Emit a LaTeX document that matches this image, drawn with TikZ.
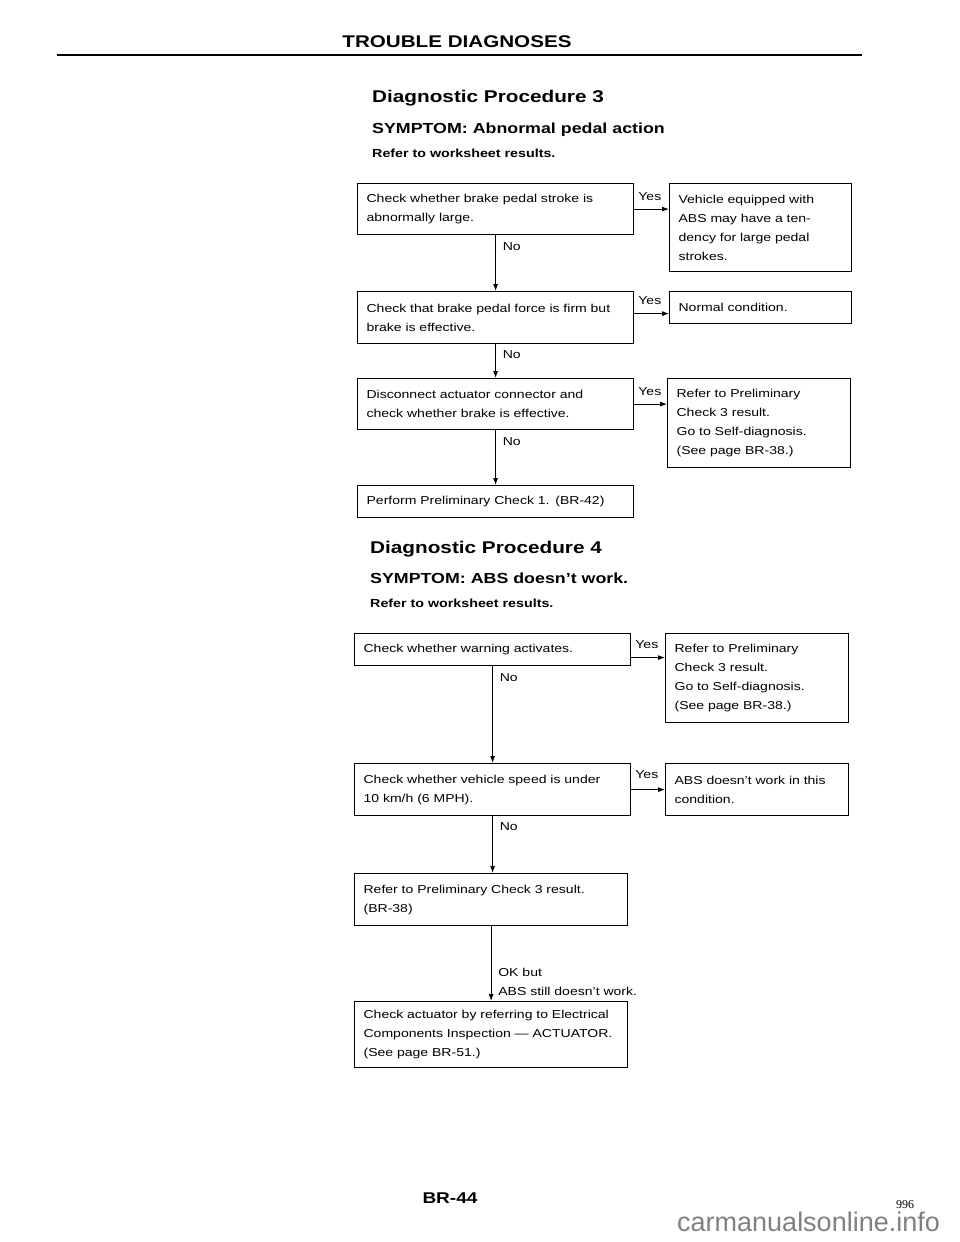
\documentclass[tikz,border=0pt]{standalone}
\usepackage{fontspec}
\setmainfont{Liberation Sans}[FakeStretch=1.22]
\newfontfamily\pagenofont{Liberation Serif}
\newfontfamily\markfont{Liberation Sans}
\usetikzlibrary{arrows.meta, calc}
\tikzset{
  check box/.style={
    draw=black,
    line width=1.2pt,
    anchor=north west,
    align=left,
    inner xsep=9pt,
    inner ysep=0pt,
    font=\fontsize{11.5}{19}\selectfont
  },
  flow/.style={
    -{Latex[length=7pt,width=5pt]},
    line width=0.9pt
  },
  branch label/.style={
    inner sep=0pt,
    font=\fontsize{11.5}{19}\selectfont
  },
  proc title/.style={
    anchor=base west,
    inner sep=0pt,
    font=\bfseries\fontsize{17}{20}\selectfont
  },
  symptom/.style={
    anchor=base west,
    inner sep=0pt,
    font=\bfseries\fontsize{14.6}{18}\selectfont
  },
  refer/.style={
    anchor=base west,
    inner sep=0pt,
    font=\bfseries\fontsize{11.7}{14}\selectfont
  }
}

\begin{document}
\begin{tikzpicture}[x=1pt, y=-1pt]
  \useasboundingbox (0,0) rectangle (960,1242);

  % kopf der seite
  \node[font=\bfseries\fontsize{16.9}{20}\selectfont] (title) at (457,42) {TROUBLE DIAGNOSES};
  \draw[line width=2.6pt] (57,55) -- (862,55);

  % Diagnostic Procedure 3
  \node[proc title] (dp3) at (372,102) {Diagnostic Procedure 3};
  \node[symptom] (sym3) at (372,133) {SYMPTOM: Abnormal pedal action};
  \node[refer] (ref3) at (372,157) {Refer to worksheet results.};

  \node[check box, text width=258pt, minimum height=51pt] (q1) at (357,183)
    {Check whether brake pedal stroke is\\abnormally large.};
  \node[check box, text width=164pt, minimum height=88pt] (a1) at (669,183)
    {Vehicle equipped with\\ABS may have a ten-\\dency for large pedal\\strokes.};
  \node[check box, text width=258pt, minimum height=52pt] (q2) at (357,291)
    {Check that brake pedal force is firm but\\brake is effective.};
  \node[check box, text width=164pt, minimum height=32pt] (a2) at (669,291)
    {Normal condition.};
  \node[check box, text width=258pt, minimum height=51pt] (q3) at (357,378)
    {Disconnect actuator connector and\\check whether brake is effective.};
  \node[check box, text width=165pt, minimum height=89pt] (a3) at (667,378)
    {Refer to Preliminary\\Check 3 result.\\Go to Self-diagnosis.\\(See page BR-38.)};
  \node[check box, text width=258pt, minimum height=32pt] (q4) at (357,485)
    {Perform Preliminary Check 1. (BR-42)};

  % ja-zweige
  \draw[flow] (q1.east) -- (q1.east -| a1.west);
  \node[branch label, anchor=base west] (yes1) at ($(q1.east)+(4,-9)$) {Yes};
  \draw[flow] ([yshift=4pt]q2.east) -- ([yshift=4pt]q2.east -| a2.west);
  \node[branch label, anchor=base west] (yes2) at ($([yshift=4pt]q2.east)+(4,-9)$) {Yes};
  \draw[flow] (q3.east) -- (q3.east -| a3.west);
  \node[branch label, anchor=base west] (yes3) at ($(q3.east)+(4,-9)$) {Yes};

  % nein-zweige
  \draw[flow] (q1) -- (q2);
  \node[branch label, anchor=base west] (no1) at ($(q1.south)+(7,15)$) {No};
  \draw[flow] (q2) -- (q3);
  \node[branch label, anchor=base west] (no2) at ($(q2.south)+(7,14)$) {No};
  \draw[flow] (q3) -- (q4);
  \node[branch label, anchor=base west] (no3) at ($(q3.south)+(7,15)$) {No};

  % Diagnostic Procedure 4
  \node[proc title] (dp4) at (370,553) {Diagnostic Procedure 4};
  \node[symptom] (sym4) at (370,583) {SYMPTOM: ABS doesn't work.};
  \node[refer] (ref4) at (370,607) {Refer to worksheet results.};

  \node[check box, text width=258pt, minimum height=32pt] (r1) at (354,633)
    {Check whether warning activates.};
  \node[check box, text width=165pt, minimum height=89pt] (b1) at (665,633)
    {Refer to Preliminary\\Check 3 result.\\Go to Self-diagnosis.\\(See page BR-38.)};
  \node[check box, text width=258pt, minimum height=52pt] (r2) at (354,763)
    {Check whether vehicle speed is under\\10 km/h (6 MPH).};
  \node[check box, text width=165pt, minimum height=52pt] (b2) at (665,763)
    {ABS doesn't work in this\\condition.};
  \node[check box, text width=255pt, minimum height=52pt] (r3) at (354,873)
    {Refer to Preliminary Check 3 result.\\(BR-38)};
  \node[check box, text width=255pt, minimum height=66pt] (r4) at (354,1001)
    {Check actuator by referring to Electrical\\Components Inspection --- ACTUATOR.\\(See page BR-51.)};

  \draw[flow] ([yshift=-8pt]r1.east) -- ([yshift=-8pt]r1.east -| b1.west);
  \node[branch label, anchor=base west] (yes4) at ($([yshift=-8pt]r1.east)+(4,-9)$) {Yes};
  \draw[flow] (r2.east) -- (r2.east -| b2.west);
  \node[branch label, anchor=base west] (yes5) at ($(r2.east)+(4,-11)$) {Yes};

  \draw[flow] (r1) -- (r2);
  \node[branch label, anchor=base west] (no4) at ($(r1.south)+(7,15)$) {No};
  \draw[flow] (r2.south) -- (r2.south |- r3.north);
  \node[branch label, anchor=base west] (no5) at ($(r2.south)+(7,14)$) {No};
  \draw[flow] (r3) -- (r4);
  \node[branch label, anchor=south west, align=left] (okbut) at ($(r4.north)+(7,-5)$)
    {OK but\\ABS still doesn't work.};

  % fuss der seite
  \node[font=\bfseries\fontsize{15.6}{18}\selectfont] (folio) at (450,1198) {BR-44};
  \node[font={\pagenofont\fontsize{12}{14}\selectfont}] (pageno) at (905,1205) {996};
  \node[anchor=base west, inner sep=0pt, text=black!50,
        font={\markfont\fontsize{27}{30}\selectfont}] (wmark) at (677,1231) {carmanualsonline.info};
\end{tikzpicture}
\end{document}
